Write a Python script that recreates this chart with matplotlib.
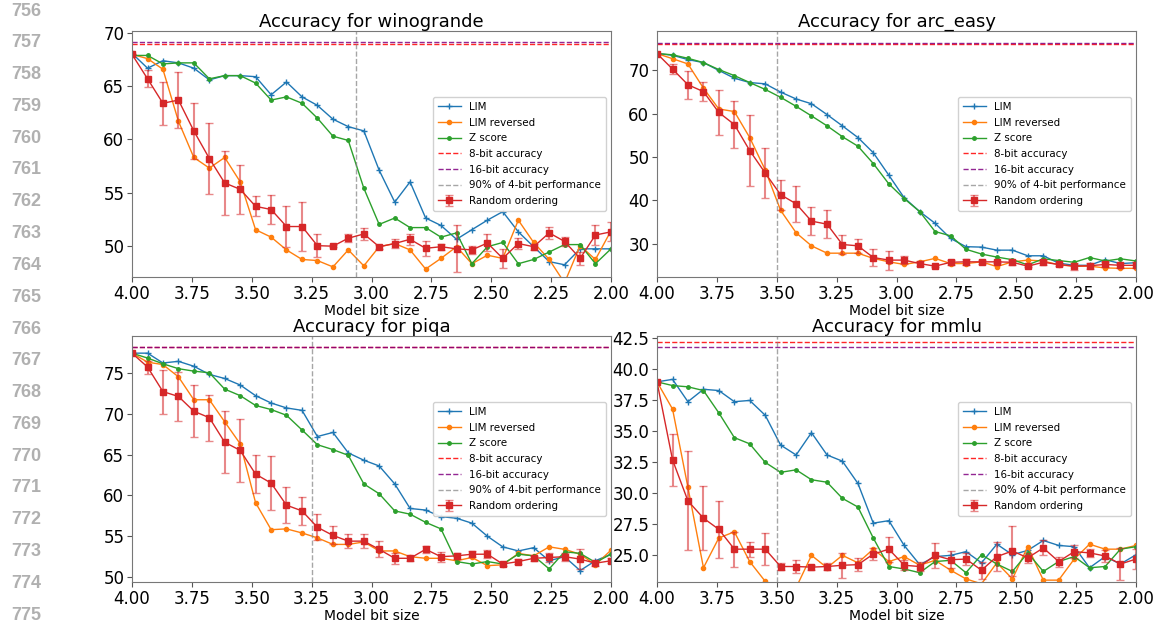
import matplotlib
matplotlib.use("Agg")
import matplotlib.pyplot as plt
from matplotlib.ticker import MultipleLocator

# ---------------- data ----------------
bits = [4.000, 3.935, 3.871, 3.806, 3.742, 3.677, 3.613, 3.548, 3.484, 3.419,
        3.355, 3.290, 3.226, 3.161, 3.097, 3.032, 2.968, 2.903, 2.839, 2.774,
        2.710, 2.645, 2.581, 2.516, 2.452, 2.387, 2.323, 2.258, 2.194, 2.129,
        2.065, 2.000]

# winogrande
wino_lim = [68.1, 66.7, 67.4, 67.2, 66.7, 65.6, 66.0, 66.0, 65.9, 64.2, 65.4, 64.0, 63.2, 61.9, 61.2, 60.8,
            57.1, 54.1, 56.0, 52.6, 51.9, 50.6, 51.5, 52.4, 53.2, 51.3, 49.9, 48.5, 48.2, 49.7, 49.7, 49.7]
wino_rev = [68.0, 67.6, 66.6, 61.7, 58.3, 57.3, 58.3, 56.0, 51.5, 50.8, 49.6, 48.7, 48.6, 48.0, 49.6, 48.1,
            49.9, 50.2, 49.6, 47.8, 48.8, 49.9, 48.3, 49.1, 48.8, 52.4, 50.3, 48.7, 46.5, 50.0, 48.7, 51.4]
wino_z = [67.9, 67.9, 67.1, 67.2, 67.2, 65.7, 66.0, 66.0, 65.3, 63.7, 64.0, 63.4, 62.0, 60.3, 59.9, 55.4,
          52.0, 52.6, 51.7, 51.7, 50.8, 51.2, 48.3, 49.9, 50.3, 48.3, 48.7, 49.4, 50.1, 50.1, 48.3, 49.7]
wino_rand = [68.0, 65.7, 63.4, 63.7, 60.8, 58.2, 55.9, 55.3, 53.7, 53.4, 51.8, 51.8, 50.0, 49.95, 50.7, 51.1,
             49.9, 50.2, 50.6, 49.75, 49.9, 49.7, 49.6, 50.25, 48.8, 50.2, 49.9, 51.2, 50.4, 48.8, 51.0, 51.3]
wino_err = [0.0, 0.8, 2.0, 2.6, 2.6, 3.3, 3.0, 2.3, 0.95, 1.4, 1.9, 2.3, 1.05, 0.1, 0.4, 0.6,
            0.2, 0.4, 0.5, 0.7, 0.3, 2.2, 0.35, 0.8, 0.9, 0.5, 0.3, 0.6, 0.45, 0.6, 0.9, 0.9]

# arc_easy
arc_lim = [73.9, 73.5, 72.5, 71.8, 70.0, 68.2, 67.2, 66.9, 65.0, 63.4, 62.3, 59.8, 57.2, 54.5, 51.0, 45.8,
           40.6, 37.4, 34.7, 31.2, 29.3, 29.2, 28.5, 28.5, 27.2, 27.2, 25.5, 25.0, 25.0, 26.3, 25.4, 25.6]
arc_rev = [73.9, 72.7, 71.5, 65.9, 61.1, 60.5, 54.5, 47.0, 37.7, 32.5, 29.5, 27.8, 27.8, 27.8, 26.6, 25.8,
           25.2, 25.8, 26.6, 25.4, 25.4, 25.8, 24.7, 25.8, 26.2, 26.0, 25.1, 24.8, 24.8, 24.4, 24.3, 24.3]
arc_z = [73.9, 73.6, 72.8, 71.8, 70.2, 68.8, 67.2, 65.6, 63.8, 61.7, 59.5, 57.2, 54.7, 52.5, 48.5, 43.8,
         40.4, 37.4, 32.8, 31.8, 28.7, 27.6, 26.9, 26.3, 25.1, 26.5, 26.1, 25.7, 26.8, 26.0, 26.5, 26.0]
arc_rand = [73.9, 70.3, 66.7, 65.1, 60.3, 57.5, 51.5, 46.3, 41.3, 39.2, 35.2, 34.5, 29.8, 29.5, 26.8, 26.2,
            26.2, 25.4, 24.8, 25.7, 25.8, 25.8, 25.8, 25.7, 24.8, 25.7, 25.2, 24.8, 24.9, 25.2, 25.0, 25.0]
arc_err = [0.0, 1.1, 3.2, 2.2, 5.1, 5.4, 8.2, 5.8, 3.5, 4.2, 3.2, 3.3, 2.3, 1.6, 2.0, 2.2,
           1.0, 0.5, 0.3, 0.6, 0.7, 0.4, 0.3, 0.6, 0.3, 0.6, 0.4, 0.8, 0.7, 0.5, 0.6, 0.7]

# piqa
piqa_lim = [77.4, 77.4, 76.2, 76.4, 75.8, 74.8, 74.3, 73.5, 72.2, 71.3, 70.7, 70.4, 67.2, 67.7, 65.2, 64.3,
            63.6, 61.4, 58.4, 58.2, 57.4, 57.2, 56.6, 55.0, 53.7, 53.2, 53.6, 52.0, 52.5, 50.8, 52.0, 52.8]
piqa_rev = [77.4, 76.3, 76.0, 74.5, 71.7, 71.7, 69.0, 66.3, 59.1, 55.8, 55.9, 55.4, 54.8, 54.0, 54.0, 54.3,
            53.2, 53.2, 52.5, 52.3, 52.3, 52.0, 52.4, 51.4, 51.5, 52.9, 52.6, 53.7, 53.4, 52.8, 51.5, 53.3]
piqa_z = [77.4, 76.8, 76.1, 75.5, 75.2, 75.0, 73.0, 72.2, 71.0, 70.5, 69.8, 68.0, 66.2, 65.6, 64.9, 61.4,
          60.2, 58.1, 57.7, 56.7, 55.9, 51.9, 51.6, 51.9, 51.6, 52.8, 52.6, 51.0, 53.1, 52.9, 51.8, 52.8]
piqa_rand = [77.4, 75.7, 72.7, 72.1, 70.3, 69.5, 66.5, 65.5, 62.6, 61.5, 58.8, 58.1, 56.1, 55.1, 54.4, 54.4,
             53.4, 52.3, 52.3, 53.4, 52.5, 52.6, 52.8, 52.8, 51.6, 51.9, 52.3, 52.4, 52.5, 52.2, 51.7, 52.0]
piqa_err = [0.0, 0.8, 2.7, 3.0, 3.2, 2.8, 3.8, 3.9, 2.3, 3.3, 2.2, 1.7, 1.6, 1.1, 0.9, 0.9,
            1.0, 0.7, 0.3, 0.4, 0.6, 0.4, 0.4, 0.5, 0.3, 0.3, 0.3, 0.5, 0.5, 1.2, 0.3, 0.3]

# mmlu
mmlu_lim = [39.0, 39.2, 37.4, 38.4, 38.3, 37.4, 37.5, 36.3, 33.9, 33.1, 34.9, 33.1, 32.6, 30.8, 27.6, 27.8,
            25.8, 24.25, 24.9, 25.0, 25.3, 24.4, 25.9, 25.05, 25.4, 26.2, 25.8, 25.7, 24.0, 24.9, 24.3, 25.05]
mmlu_rev = [39.0, 36.8, 30.5, 24.0, 26.4, 26.9, 24.5, 22.9, 21.9, 22.4, 25.0, 24.0, 25.0, 24.4, 25.5, 24.5,
            24.9, 24.2, 24.6, 23.8, 23.1, 22.7, 24.4, 23.1, 25.7, 23.0, 23.0, 24.7, 25.9, 25.5, 25.5, 25.8]
mmlu_z = [39.0, 38.7, 38.6, 38.3, 36.5, 34.5, 34.0, 32.5, 31.7, 31.9, 31.1, 30.9, 29.6, 28.9, 26.4, 24.1,
          23.9, 23.6, 24.5, 24.6, 23.6, 25.05, 24.3, 23.7, 25.2, 23.7, 24.5, 24.9, 24.0, 24.1, 25.5, 25.7]
mmlu_rand = [39.0, 32.7, 29.4, 28.0, 27.1, 25.5, 25.5, 25.5, 24.1, 24.1, 24.05, 24.1, 24.2, 24.25, 25.1, 25.5,
             24.2, 24.1, 25.0, 24.65, 24.7, 23.8, 24.9, 25.35, 24.8, 25.6, 24.5, 25.3, 25.2, 24.95, 24.3, 24.7]
mmlu_err = [0.0, 2.1, 4.0, 2.6, 2.3, 1.4, 0.6, 1.3, 0.3, 0.5, 0.2, 0.3, 1.0, 0.5, 0.5, 1.0,
            0.4, 0.4, 1.0, 0.7, 0.5, 0.7, 1.2, 2.0, 0.4, 0.6, 0.4, 0.5, 0.3, 0.5, 1.3, 0.8]

task_names = ["winogrande", "arc_easy", "piqa", "mmlu"]
acc_8bit = [69.0, 76.2, 78.15, 42.23]
acc_16bit = [69.2, 76.4, 78.2, 41.85]
cutoff_bits = [3.063, 3.50, 3.25, 3.50]
y_limits = [(47.05, 70.2), (22.3, 79.1), (49.4, 79.5), (22.85, 42.7)]
y_steps = [5, 10, 5, 2.5]
line_numbers = list(range(756, 776))

series = [
    (wino_lim, wino_rev, wino_z, wino_rand, wino_err),
    (arc_lim, arc_rev, arc_z, arc_rand, arc_err),
    (piqa_lim, piqa_rev, piqa_z, piqa_rand, piqa_err),
    (mmlu_lim, mmlu_rev, mmlu_z, mmlu_rand, mmlu_err),
]

# ---------------- figure ----------------
W, H = 1156, 623
fig = plt.figure(figsize=(W / 100, H / 100), dpi=100)

boxes = [(132, 31, 611, 277), (657, 31, 1136, 277),
         (132, 336, 611, 582), (657, 336, 1136, 582)]

for i, (name, (lim, rev, zs, rnd, err)) in enumerate(zip(task_names, series)):
    x0, y0, x1, y1 = boxes[i]
    ax = fig.add_axes([x0 / W, 1 - y1 / H, (x1 - x0) / W, (y1 - y0) / H])
    ax.plot(bits, lim, color="tab:blue", marker="+", ms=4, lw=1, label="LIM")
    ax.plot(bits, rev, color="tab:orange", marker="o", ms=3, lw=1, label="LIM reversed")
    ax.plot(bits, zs, color="tab:green", marker=".", ms=5, lw=1, label="Z score")
    ax.axhline(acc_8bit[i], color="red", ls="--", lw=1, alpha=0.85, label="8-bit accuracy")
    ax.axhline(acc_16bit[i], color="purple", ls="--", lw=1, alpha=0.85, label="16-bit accuracy")
    ax.axvline(cutoff_bits[i], color="gray", ls="--", lw=1, alpha=0.7,
               label="90% of 4-bit performance")
    ax.errorbar(bits, rnd, yerr=err, color="tab:red", marker="s", ms=4, lw=1,
                ecolor=(0.84, 0.15, 0.16, 0.55), elinewidth=1.5, capsize=3,
                label="Random ordering")
    ax.set_xlim(4.0, 2.0)
    ax.set_ylim(*y_limits[i])
    ax.yaxis.set_major_locator(MultipleLocator(y_steps[i]))
    ax.set_title(f"Accuracy for {name}", fontsize=13, pad=3)
    ax.set_xlabel("Model bit size", fontsize=10, labelpad=1)
    ax.tick_params(labelsize=12, length=3.5, color="#555555", pad=2)
    for sp in ax.spines.values():
        sp.set_color("#777777")
    ax.legend(loc="center right", fontsize=7.4, handlelength=2.2,
              borderpad=0.5, labelspacing=0.55, framealpha=0.9)

for j, n in enumerate(line_numbers):
    fig.text(11 / W, 1 - (11 + 31.8 * j) / H, str(n), fontsize=13, color="#b0b0b0",
             fontweight="bold", family="Liberation Sans", va="center", ha="left")

fig.savefig("out.png", dpi=100)
